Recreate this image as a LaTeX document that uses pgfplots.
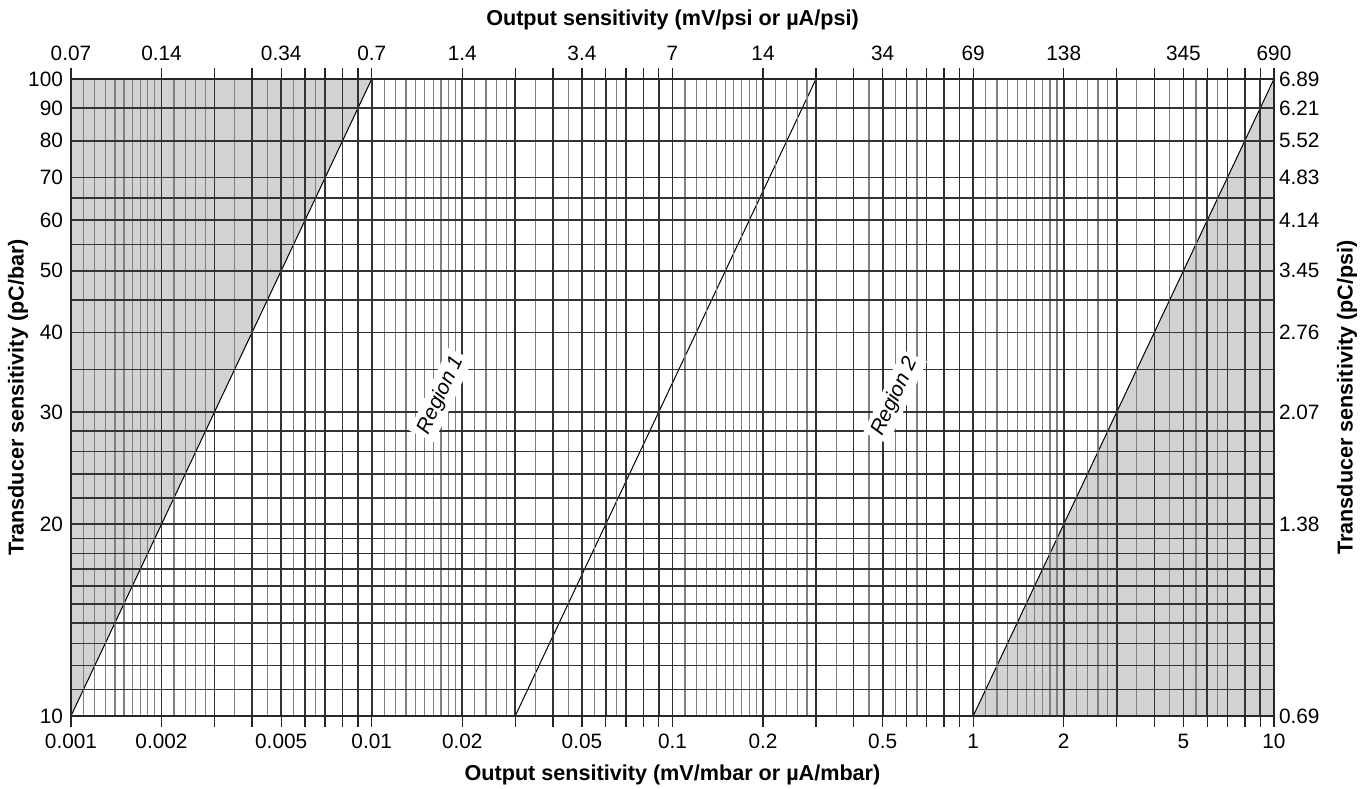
\documentclass[border=0pt]{standalone}
\usepackage{pgfplots}
\pgfplotsset{compat=1.18}
\usepackage{fontspec}
\setmainfont{Liberation Sans}
\definecolor{shade}{RGB}{209,210,212}

\begin{document}
\begin{tikzpicture}
\pgfplotsset{
    xmin=0.001, xmax=10, ymin=10, ymax=100,
    scale only axis, width=601.5pt, height=318.5pt,
    xtick={0.001,0.002,0.003,0.004,0.005,0.006,0.007,0.008,0.009,
           0.01,0.02,0.03,0.04,0.05,0.06,0.07,0.08,0.09,
           0.1,0.2,0.3,0.4,0.5,0.6,0.7,0.8,0.9,
           1,2,3,4,5,6,7,8,9,10},
    ytick={10,11,12,13,14,15,16,17,18,19,20,22,24,26,28,30,35,40,45,50,55,60,65,70,80,90,100},
    tick align=outside,
    major tick length=5.5pt, minor tick length=0pt,
    ticklabel style={font=\fontsize{10.4}{12}\selectfont},
    label style={font=\bfseries\fontsize{10.8}{12}\selectfont},
    axis line style={black!85, line width=1pt},
}
\begin{loglogaxis}[
    axis on top,
    xticklabels={0.001,0.002,{},{},0.005,{},{},{},{},
                 0.01,0.02,{},{},0.05,{},{},{},{},
                 0.1,0.2,{},{},0.5,{},{},{},{},
                 1,2,{},{},5,{},{},{},{},10},
    yticklabels={10,{},{},{},{},{},{},{},{},{},20,{},{},{},{},30,{},40,{},50,{},60,{},70,80,90,100},
    minor xtick={0.0011,0.0012,0.0013,0.0014,0.0015,0.0016,0.0017,0.0018,0.0019,
                 0.0022,0.0024,0.0026,0.0028,0.0035,0.0045,0.0055,0.0065,
                 0.011,0.012,0.013,0.014,0.015,0.016,0.017,0.018,0.019,
                 0.022,0.024,0.026,0.028,0.035,0.045,0.055,0.065,
                 0.11,0.12,0.13,0.14,0.15,0.16,0.17,0.18,0.19,
                 0.22,0.24,0.26,0.28,0.35,0.45,0.55,0.65,
                 1.1,1.2,1.3,1.4,1.5,1.6,1.7,1.8,1.9,
                 2.2,2.4,2.6,2.8,3.5,4.5,5.5,6.5},
    minor ytick={},
    grid=both,
    major grid style={black!80, line width=0.8pt},
    minor grid style={black!50, line width=0.6pt},
    xtick style={black!85, line width=0.7pt},
    ytick style={draw=none},
    yticklabel style={xshift=5pt},
    xlabel={Output sensitivity (mV/mbar or µA/mbar)},
    ylabel={Transducer sensitivity (pC/bar)},
    xlabel style={yshift=-1pt},
    every axis y label/.style={at={([xshift=-26.5pt]rel axis cs:0,0.5)}, rotate=90, anchor=center,
        font=\bfseries\fontsize{10.8}{12}\selectfont},
  ]
  \coordinate (sw) at (rel axis cs:0,0);
  \coordinate (ne) at (rel axis cs:1,1);
  \addplot[fill=shade, draw=none] coordinates {(0.001,10) (0.01,100) (0.001,100)} -- cycle;
  \addplot[fill=shade, draw=none] coordinates {(1,10) (10,100) (10,10)} -- cycle;
  \addplot[black, line width=0.5pt] coordinates {(0.001,10) (0.01,100)};
  \addplot[black, line width=0.5pt] coordinates {(0.03,10) (0.3,100)};
  \addplot[black, line width=0.5pt] coordinates {(1,10) (10,100)};
\end{loglogaxis}
\begin{loglogaxis}[
    xticklabel pos=top, yticklabel pos=right,
    xticklabels={0.07,0.14,{},{},0.34,{},{},{},{},
                 0.7,1.4,{},{},3.4,{},{},{},{},
                 7,14,{},{},34,{},{},{},{},
                 69,138,{},{},345,{},{},{},{},690},
    yticklabels={0.69,{},{},{},{},{},{},{},{},{},1.38,{},{},{},{},2.07,{},2.76,{},3.45,{},4.14,{},4.83,5.52,6.21,6.89},
    tick style={draw=none},
    yticklabel style={xshift=-6.5pt},
    xlabel={Output sensitivity (mV/psi or µA/psi)},
    ylabel={Transducer sensitivity (pC/psi)},
    xlabel style={yshift=1pt},
    every axis y label/.style={at={([xshift=36.5pt]rel axis cs:1,0.5)}, rotate=90, anchor=center,
        font=\bfseries\fontsize{10.8}{12}\selectfont},
  ]
  \node[rotate=64.8, fill=white, inner sep=2pt, font=\itshape\fontsize{10.4}{12}\selectfont]
    at (axis cs:0.017,31.9) {Region 1};
  \node[rotate=64.8, fill=white, inner sep=2pt, font=\itshape\fontsize{10.4}{12}\selectfont]
    at (axis cs:0.55,31.7) {Region 2};
\end{loglogaxis}
\pgfresetboundingbox
\path[use as bounding box] ([shift={(-35.5pt,-36.5pt)}]sw) rectangle ([shift={(46pt,39.5pt)}]ne);
\end{tikzpicture}
\end{document}
